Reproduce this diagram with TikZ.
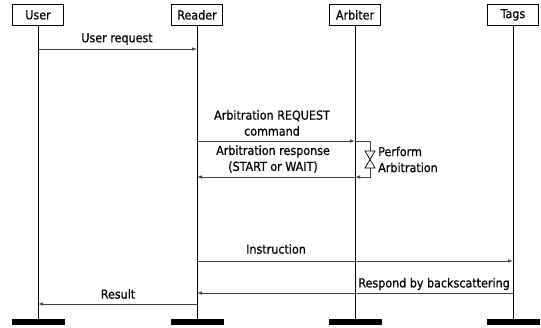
\documentclass[tikz,border=0pt]{standalone}
\usepackage{fontspec}
\setmainfont[FakeBold=0.6]{DejaVu Sans Condensed}
\usetikzlibrary{arrows.meta}
\begin{document}
\begin{tikzpicture}[x=1pt,y=-1pt,
  every node/.style={font=\fontsize{12.4}{16}\selectfont, inner sep=0pt},
  actor/.style={draw, line width=0.8pt, minimum width=51pt, minimum height=21pt, anchor=north},
  life/.style={line width=0.9pt},
  endbar/.style={fill=black, minimum width=53pt, minimum height=6pt, anchor=north},
  msg/.style={line width=0.8pt, draw=black!75, -{Latex[length=5pt,width=3.5pt]}},
  lbl/.style={align=center}]
\useasboundingbox (0,0) rectangle (541,328);

% participants
\node[actor] (user) at (38,4) {User};
\node[actor] (reader) at (197,4) {Reader};
\node[actor] (arbiter) at (355,4) {Arbiter};
\node[actor] (tags) at (513,4) {Tags};

% lifeline ends
\node[endbar] (userend) at (38,319) {};
\node[endbar] (readerend) at (197,319) {};
\node[endbar] (arbiterend) at (355,319) {};
\node[endbar] (tagsend) at (513,319) {};

\draw[life] (user.south) -- (userend.north);
\draw[life] (reader.south) -- (readerend.north);
\draw[life] (arbiter.south) -- (arbiterend.north);
\draw[life] (tags.south) -- (tagsend.north);

% messages
\coordinate (m1a) at (38,49);   \coordinate (m1b) at (197,49);
\draw[msg] (m1a) -- (m1b);
\node[lbl] at (117,39) {User request};

\coordinate (m2a) at (197,141); \coordinate (m2b) at (355,141);
\draw[msg] (m2a) -- (m2b);
\node[lbl] at (272,123) {Arbitration REQUEST\\command};

\coordinate (m3a) at (355,177); \coordinate (m3b) at (197,177);
\draw[msg] (m3a) -- (m3b);
\node[lbl] at (273,159) {Arbitration response\\(START or WAIT)};

% self action on the arbiter
\coordinate (s1) at (370,141);
\coordinate (s2) at (370,151);
\coordinate (s3) at (370,168);
\coordinate (s4) at (370,177);
\draw[line width=0.8pt, draw=black!75] (m2b) -- (s1) -- (s2);
\draw[msg] (s3) -- (s4) -- (m3a);
\draw[line width=0.7pt] (365,151) -- (375,151) -- (365,168) -- (375,168) -- cycle;
\node[align=left, anchor=west] at (378,159.5) {Perform\\Arbitration};

\coordinate (m4a) at (197,261); \coordinate (m4b) at (513,261);
\draw[msg] (m4a) -- (m4b);
\node[lbl] at (276,249) {Instruction};

\coordinate (m5a) at (513,293); \coordinate (m5b) at (197,293);
\draw[msg] (m5a) -- (m5b);
\node[lbl, anchor=east] at (510,284) {Respond by backscattering};

\coordinate (m6a) at (197,304); \coordinate (m6b) at (38,304);
\draw[msg] (m6a) -- (m6b);
\node[lbl] at (118,294) {Result};
\end{tikzpicture}
\end{document}
